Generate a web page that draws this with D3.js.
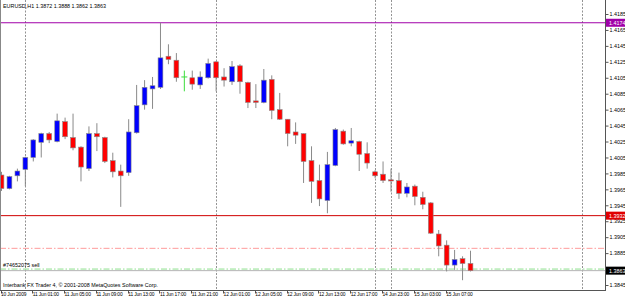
<!DOCTYPE html>
<html>
<head>
<meta charset="utf-8">
<script src="https://cdn.jsdelivr.net/npm/d3@7"></script>
<style>
  body { margin: 0; background: #fff; }
  text { font-family: "Liberation Sans", Arial, sans-serif; font-size: 5.4px; fill: #000; }
  .tlabel { font-size: 4.9px; letter-spacing: -0.15px; }
</style>
</head>
<body>
<div id="container"></div>
<script>
// EURUSD H1 bars, 10 Jun 2009 21:00 .. 15 Jun 2009 10:00
const opens  = [1.3983, 1.3966, 1.3982, 1.3990, 1.4005, 1.4024, 1.4035, 1.4025, 1.4050, 1.4030,
                1.4018, 1.3991, 1.4035, 1.4030, 1.4001, 1.3988, 1.3986, 1.4036, 1.4071, 1.4091,
                1.4093, 1.4132, 1.4127, 1.4106, 1.4105, 1.4096, 1.4105, 1.4125, 1.4106, 1.4100,
                1.4120, 1.4099, 1.4076, 1.4074, 1.4103, 1.4065, 1.4053, 1.4037, 1.4035, 1.4001,
                1.3976, 1.3951, 1.3995, 1.4038, 1.4023, 1.4025, 1.4010, 1.3987, 1.3984, 1.3977,
                1.3976, 1.3960, 1.3969, 1.3955, 1.3948, 1.3909, 1.3895, 1.3870, 1.3878, 1.3872];
const highs  = [1.3987, 1.3982, 1.3991, 1.4006, 1.4028, 1.4036, 1.4037, 1.4060, 1.4055, 1.4060,
                1.4019, 1.4044, 1.4048, 1.4031, 1.4011, 1.3996, 1.4053, 1.4096, 1.4102, 1.4106,
                1.4174, 1.4147, 1.4136, 1.4114, 1.4114, 1.4113, 1.4129, 1.4126, 1.4117, 1.4126,
                1.4122, 1.4100, 1.4097, 1.4116, 1.4108, 1.4086, 1.4053, 1.4049, 1.4035, 1.4019,
                1.3996, 1.4012, 1.4042, 1.4040, 1.4042, 1.4026, 1.4024, 1.3989, 1.4000, 1.3991,
                1.3986, 1.3973, 1.3971, 1.3962, 1.3949, 1.3914, 1.3901, 1.3889, 1.3881, 1.3888];
const lows   = [1.3963, 1.3965, 1.3975, 1.3969, 1.4000, 1.4005, 1.4023, 1.4024, 1.4028, 1.4014,
                1.3975, 1.3988, 1.4013, 1.3998, 1.3980, 1.3943, 1.3982, 1.4035, 1.4065, 1.4066,
                1.4091, 1.4122, 1.4100, 1.4088, 1.4090, 1.4091, 1.4104, 1.4088, 1.4094, 1.4096,
                1.4085, 1.4067, 1.4067, 1.4073, 1.4053, 1.4052, 1.4019, 1.4022, 1.3973, 1.3948,
                1.3944, 1.3935, 1.3994, 1.4021, 1.4019, 1.3988, 1.3991, 1.3979, 1.3973, 1.3962,
                1.3953, 1.3955, 1.3945, 1.3940, 1.3909, 1.3881, 1.3862, 1.3864, 1.3851, 1.3862];
const closes = [1.3966, 1.3981, 1.3988, 1.4005, 1.4027, 1.4035, 1.4027, 1.4051, 1.4031, 1.4017,
                1.3993, 1.4035, 1.4031, 1.4000, 1.3987, 1.3982, 1.4037, 1.4070, 1.4093, 1.4095,
                1.4130, 1.4128, 1.4105, 1.4106, 1.4097, 1.4106, 1.4123, 1.4105, 1.4102, 1.4119,
                1.4100, 1.4074, 1.4074, 1.4102, 1.4064, 1.4053, 1.4035, 1.4033, 1.4000, 1.3975,
                1.3953, 1.3996, 1.4040, 1.4022, 1.4026, 1.4009, 1.3998, 1.3982, 1.3976, 1.3976,
                1.3960, 1.3968, 1.3956, 1.3946, 1.3910, 1.3894, 1.3870, 1.3877, 1.3872, 1.3863];

// time scale labels (bar index -> text)
const timeTickIdx    = [0, 4, 8, 12, 16, 20, 24, 28, 32, 36, 40, 44, 48, 52, 56];
const timeTickLabels = ["10 Jun 2009", "11 Jun 01:00", "11 Jun 05:00", "11 Jun 09:00", "11 Jun 13:00",
                        "11 Jun 17:00", "11 Jun 21:00", "12 Jun 01:00", "12 Jun 05:00", "12 Jun 09:00",
                        "12 Jun 13:00", "12 Jun 17:00", "14 Jun 23:00", "15 Jun 03:00", "15 Jun 07:00"];
// day separators (bar index, the last one is in the future)
const separatorIdx = [3, 27, 47, 49, 73];

// price scale
const priceTicks = [1.4185, 1.4165, 1.4145, 1.4125, 1.4105, 1.4085, 1.4065, 1.4045, 1.4025, 1.4005,
                    1.3985, 1.3965, 1.3945, 1.3925, 1.3905, 1.3885, 1.3845];

// levels
const highLevel = 1.4174;   // purple line
const redLevel = 1.3932;    // red line
const stopLevel = 1.3891;   // order stop (dash dot)
const orderLevel = 1.3865;  // order open price (dash dot)
const bidLevel = 1.3863;    // bid line
const orderLabel = "#74652075 sell";
const title = "EURUSD,H1  1.3872 1.3888 1.3862 1.3863";
const copyright = "Interbank FX Trader 4, \u00a9 2001-2008 MetaQuotes Software Corp.";

const W = 625, H = 298;
const plotW = 605, plotH = 290;

const svg = d3.select("#container")
    .append("svg")
    .attr("width", W)
    .attr("height", H);

svg.append("defs").append("clipPath").attr("id", "plot")
    .append("rect").attr("x", 0).attr("y", 0).attr("width", plotW).attr("height", plotH);

// Scales
const x = d3.scaleLinear().domain([0, 59]).range([1.5, 470.5]);
const y = d3.scaleLinear().domain([1.3845, 1.4185]).range([285, 14]);

const plot = svg.append("g").attr("clip-path", "url(#plot)");

// separators
plot.selectAll(".sep")
    .data(separatorIdx)
    .enter()
    .append("line")
    .attr("x1", d => Math.round(x(d)) + 0.5)
    .attr("x2", d => Math.round(x(d)) + 0.5)
    .attr("y1", 0)
    .attr("y2", plotH)
    .attr("stroke", "#777")
    .attr("stroke-width", 0.8)
    .attr("stroke-dasharray", "2,1.5");

// horizontal levels
const hline = (p, color, dash, w) => plot.append("line")
    .attr("x1", 0).attr("x2", plotW)
    .attr("y1", y(p)).attr("y2", y(p))
    .attr("stroke", color)
    .attr("stroke-width", w)
    .attr("stroke-dasharray", dash);

hline(stopLevel, "#ff9c9c", "6,2,1.5,2", 1);
hline(bidLevel, "#b4b4b4", null, 1);
hline(orderLevel, "#8fe08f", "6,2,1.5,2", 1);
hline(highLevel, "#a000a8", null, 1.1);
hline(redLevel, "#d00000", null, 1);

// candles
const bars = d3.range(opens.length).map(i => ({
    i, o: opens[i], h: highs[i], l: lows[i], c: closes[i]
}));

plot.selectAll(".wick")
    .data(bars)
    .enter()
    .append("line")
    .attr("x1", d => x(d.i))
    .attr("x2", d => x(d.i))
    .attr("y1", d => y(d.h))
    .attr("y2", d => y(d.l))
    .attr("stroke", d => d.o === d.c ? "#3ddc3d" : "#8a8a8a")
    .attr("stroke-width", 1);

plot.selectAll(".body")
    .data(bars.filter(d => d.o !== d.c))
    .enter()
    .append("rect")
    .attr("x", d => x(d.i) - 2.4)
    .attr("width", 4.8)
    .attr("y", d => y(Math.max(d.o, d.c)))
    .attr("height", d => Math.max(1.2, Math.abs(y(d.o) - y(d.c))))
    .attr("fill", d => d.c > d.o ? "#0000ff" : "#ff0000")
    .attr("stroke", "#8a8a8a")
    .attr("stroke-width", 0.6);

plot.selectAll(".doji")
    .data(bars.filter(d => d.o === d.c))
    .enter()
    .append("line")
    .attr("x1", d => x(d.i) - 3)
    .attr("x2", d => x(d.i) + 3)
    .attr("y1", d => y(d.o))
    .attr("y2", d => y(d.o))
    .attr("stroke", "#3ddc3d")
    .attr("stroke-width", 1);

// texts in the chart
svg.append("text").attr("x", 3).attr("y", 8).text(title);
svg.append("text").attr("x", 3).attr("y", y(orderLevel) - 2.5).text(orderLabel);
svg.append("text").attr("x", 3).attr("y", 287).text(copyright);

// frame
svg.append("line").attr("x1", 0.5).attr("x2", 0.5).attr("y1", 0).attr("y2", plotH)
    .attr("stroke", "#888");
svg.append("line").attr("x1", plotW + 0.5).attr("x2", plotW + 0.5).attr("y1", 0).attr("y2", plotH + 1)
    .attr("stroke", "#555");
svg.append("line").attr("x1", 0).attr("x2", plotW + 1).attr("y1", plotH + 0.5).attr("y2", plotH + 0.5)
    .attr("stroke", "#555");

// price axis
const yAxis = svg.append("g")
    .attr("transform", `translate(${plotW + 0.5},0)`)
    .call(d3.axisRight(y).tickValues(priceTicks).tickSize(3).tickPadding(1).tickFormat(d3.format(".4f")));
yAxis.select(".domain").remove();
yAxis.selectAll("text").style("font-size", "5.4px").attr("fill", "#000");
yAxis.selectAll("line").attr("stroke", "#555");

// boxed price labels
const box = (p, color) => {
    const g = svg.append("g").attr("transform", `translate(${plotW + 1},${y(p)})`);
    g.append("rect").attr("x", 0).attr("y", -4).attr("width", 19).attr("height", 8).attr("fill", color);
    g.append("text").attr("x", 3).attr("dy", "0.35em").style("fill", "#fff").text(d3.format(".4f")(p));
};
box(highLevel, "#a000a8");
box(redLevel, "#e00000");
box(bidLevel, "#000");

// time axis
const timeAxis = svg.append("g").attr("transform", `translate(0,${plotH + 0.5})`);
timeAxis.selectAll("line")
    .data(timeTickIdx)
    .enter()
    .append("line")
    .attr("x1", d => Math.round(x(d)) - 0.5)
    .attr("x2", d => Math.round(x(d)) - 0.5)
    .attr("y1", 0)
    .attr("y2", 3)
    .attr("stroke", "#555");
timeAxis.selectAll("text")
    .data(timeTickIdx)
    .enter()
    .append("text")
    .attr("class", "tlabel")
    .attr("x", d => x(d) - 0.5)
    .attr("y", 5.5)
    .text((d, i) => timeTickLabels[i]);
</script>
</body>
</html>
